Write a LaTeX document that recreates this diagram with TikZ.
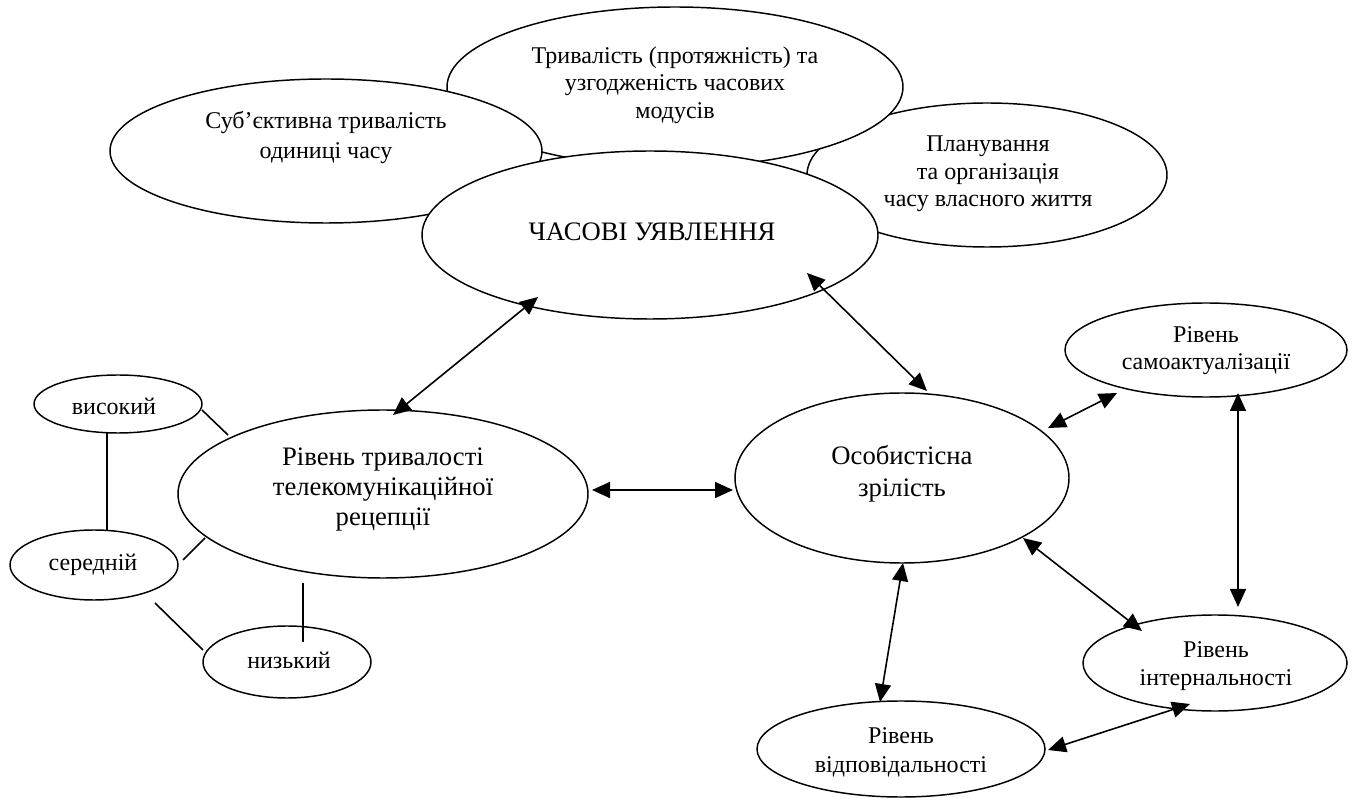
\documentclass[tikz,border=0pt]{standalone}
\usepackage{fontspec}
\setmainfont{Liberation Serif}
\usetikzlibrary{shapes.geometric, arrows.meta, calc}
\begin{document}
\begin{tikzpicture}[x=0.75pt, y=-0.75pt,
  el/.style n args={2}{ellipse, draw, fill=white, line width=1.1pt, inner sep=0pt, outer sep=0pt, minimum width={#1*1.5pt}, minimum height={#2*1.5pt}},
  txt/.style={align=center, inner sep=0pt, font=\fontsize{18}{20.6}\selectfont},
  arr/.style={{Triangle[length=13.5pt,width=12pt]}-{Triangle[length=13.5pt,width=12pt]}, line width=1.2pt},
  ln/.style={line width=1.2pt}]
\useasboundingbox (0,0) rectangle (1354,798);

% overlapping top cluster (order matters)
\node[el={180}{72}] (plan) at (987,175) {};
\node[txt] (plantxt) at (988,174) {Планування\\та організація\\часу власного життя};
\node[el={228}{80}] (tryv) at (675,87) {};
\node[txt] (tryvtxt) at (675,85) {Тривалість (протяжність) та\\узгодженість часових\\модусів};
\node[el={216}{72}] (sub) at (326,151) {};
\node[txt, font=\fontsize{18}{22.5}\selectfont] (subtxt) at (326,138) {Суб’єктивна тривалість\\одиниці часу};
\node[el={228}{84}] (chas) at (650,235) {};
\node[txt, font=\fontsize{20}{22}\selectfont] (chastxt) at (652,232) {ЧАСОВІ УЯВЛЕННЯ};

% other ellipses
\node[el={205}{84}] (rt) at (383,494) {};
\node[txt, font=\fontsize{20}{22.5}\selectfont] (rttxt) at (383,490) {Рівень тривалості\\телекомунікаційної\\рецепції};
\node[el={167}{85}] (os) at (902,478) {};
\node[txt, font=\fontsize{20}{24}\selectfont] (ostxt) at (902,474) {Особистісна\\зрілість};
\node[el={141}{47}] (sam) at (1206,350) {};
\node[txt, font=\fontsize{18}{20.3}\selectfont] (samtxt) at (1206,351) {Рівень\\самоактуалізації};
\node[el={132}{48}] (int) at (1215,663) {};
\node[txt, font=\fontsize{18}{21}\selectfont] (inttxt) at (1216,666) {Рівень\\інтернальності};
\node[el={144}{48}] (vid) at (901,749) {};
\node[txt, font=\fontsize{18}{21.8}\selectfont] (vidtxt) at (901,752) {Рівень\\відповідальності};
\node[el={84}{29}] (vys) at (118,404) {};
\node[txt] (vystxt) at (114,406) {високий};
\node[el={84}{35}] (ser) at (94,565) {};
\node[txt] (sertxt) at (93,565) {середній};
\node[el={84}{36}] (nyz) at (287,662) {};
\node[txt] (nyztxt) at (289,660) {низький};

% double arrows
\draw[arr] ($(chas)+(-112,62)$) -- ($(rt)+(10,-79)$);
\draw[arr] ($(chas)+(157,38)$) -- ($(os)+(25,-87)$);
\draw[arr] ($(rt)+(209,-4)$) -- ($(os)+(-169,12)$);
\draw[arr] ($(os)+(146,-50)$) -- ($(sam)+(-89,43)$);
\draw[arr] ($(sam)+(32,43)$) -- ($(int)+(23,-56)$);
\draw[arr] ($(os)+(121,60)$) -- ($(int)+(-73,-32)$);
\draw[arr] ($(os)+(1,85)$) -- ($(vid)+(-21,-47)$);
\draw[arr] ($(vid)+(147,1)$) -- ($(int)+(-25,41)$);

% plain lines
\draw[ln] ($(vys)+(84,6)$) -- ($(rt)+(-155,-59)$);
\draw[ln] ($(vys)+(-11,29)$) -- ($(ser)+(13,-35)$);
\draw[ln] ($(ser)+(89,-5)$) -- ($(rt)+(-178,44)$);
\draw[ln] ($(ser)+(61,38)$) -- ($(nyz)+(-84,-12)$);
\draw[ln] ($(rt)+(-80,89)$) -- ($(nyz)+(16,-20)$);
\end{tikzpicture}
\end{document}
